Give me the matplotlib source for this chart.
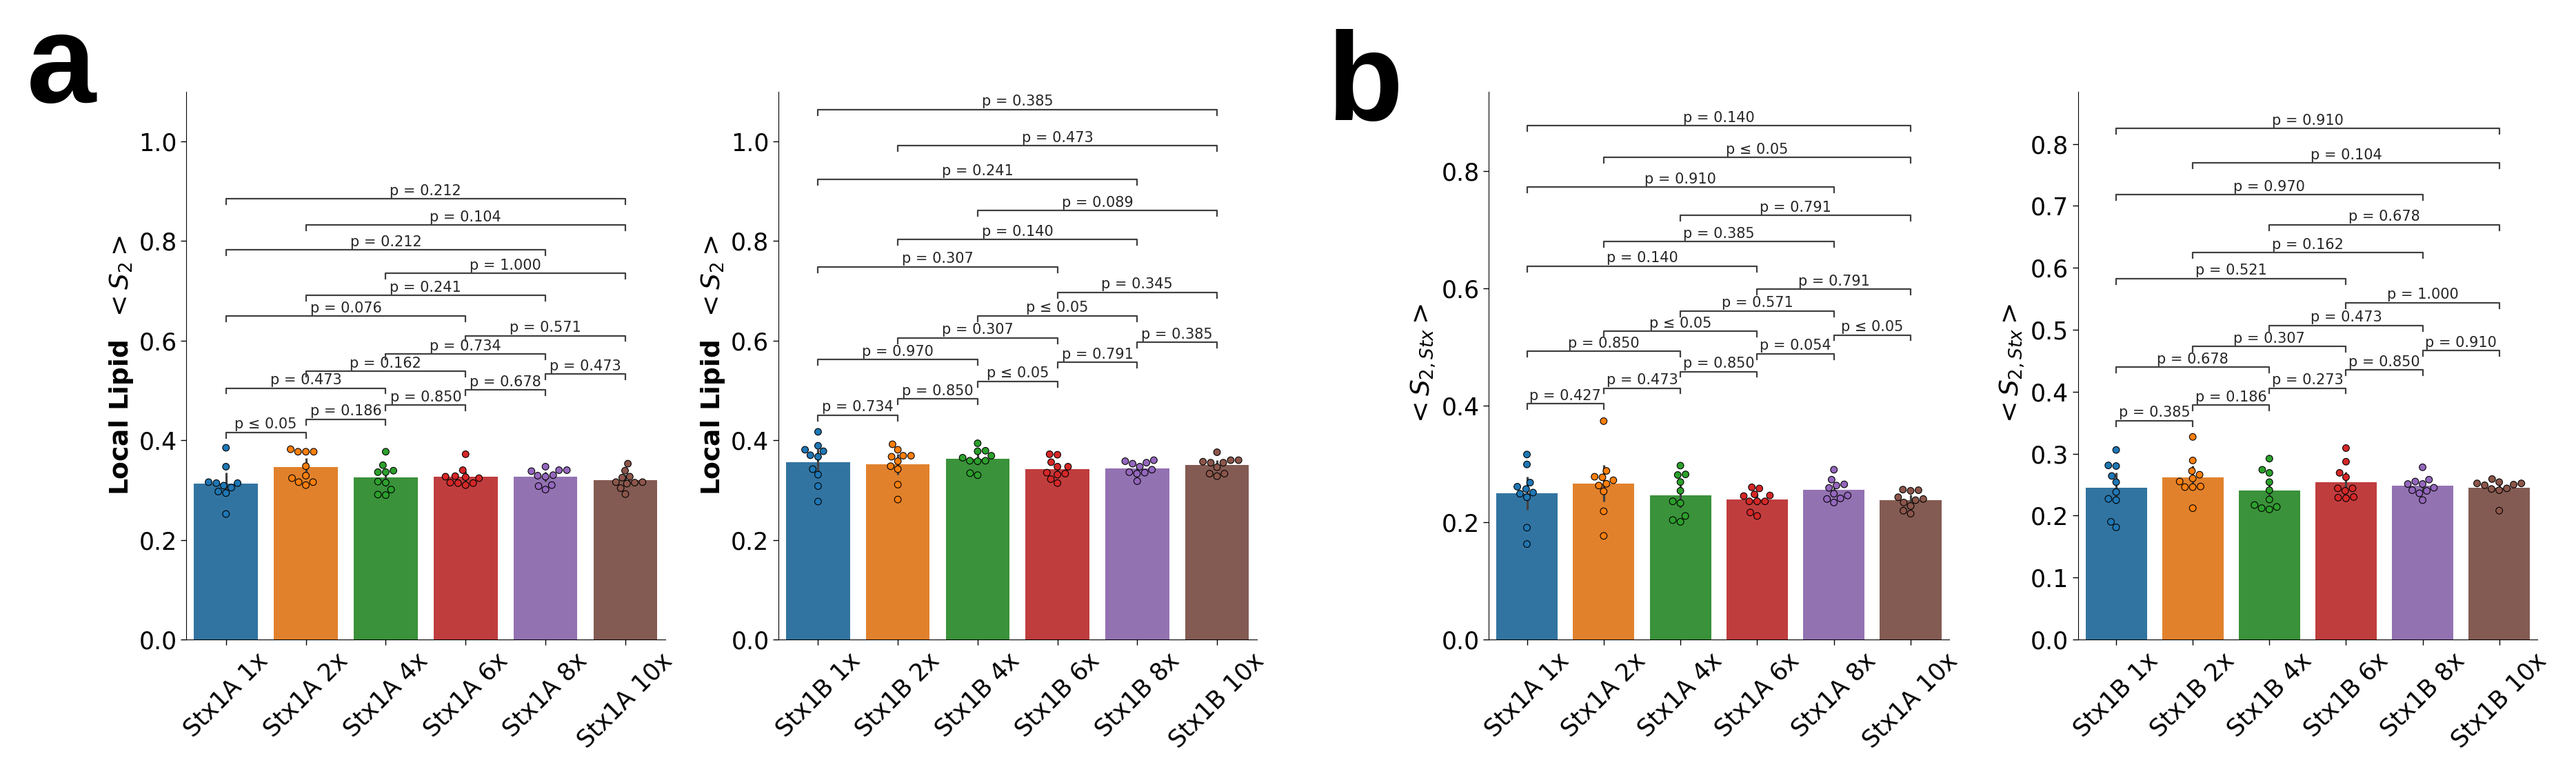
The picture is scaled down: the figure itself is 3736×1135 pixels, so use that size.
import matplotlib
matplotlib.use("Agg")
import matplotlib.pyplot as plt
import matplotlib.ticker as mticker
import seaborn as sns
import numpy as np

labels_1a = ["Stx1A 1x", "Stx1A 2x", "Stx1A 4x", "Stx1A 6x", "Stx1A 8x", "Stx1A 10x"]
labels_1b = ["Stx1B 1x", "Stx1B 2x", "Stx1B 4x", "Stx1B 6x", "Stx1B 8x", "Stx1B 10x"]

# a: local lipid order parameter, one value per replica
lipid_1a = [
    [0.385, 0.347, 0.316, 0.314, 0.314, 0.309, 0.305, 0.297, 0.294, 0.252],
    [0.382, 0.377, 0.377, 0.377, 0.348, 0.329, 0.324, 0.316, 0.316, 0.310],
    [0.377, 0.350, 0.336, 0.336, 0.339, 0.317, 0.315, 0.301, 0.291, 0.290],
    [0.372, 0.340, 0.328, 0.326, 0.324, 0.327, 0.314, 0.315, 0.314, 0.310],
    [0.347, 0.340, 0.340, 0.338, 0.329, 0.330, 0.327, 0.310, 0.308, 0.301],
    [0.353, 0.339, 0.327, 0.325, 0.316, 0.316, 0.313, 0.304, 0.292, 0.315],
]
lipid_1b = [
    [0.417, 0.389, 0.381, 0.378, 0.370, 0.367, 0.342, 0.331, 0.308, 0.277],
    [0.392, 0.381, 0.367, 0.369, 0.369, 0.358, 0.348, 0.342, 0.311, 0.281],
    [0.394, 0.379, 0.378, 0.365, 0.369, 0.359, 0.359, 0.358, 0.334, 0.330],
    [0.372, 0.371, 0.356, 0.347, 0.347, 0.335, 0.331, 0.333, 0.322, 0.314],
    [0.358, 0.355, 0.360, 0.353, 0.347, 0.341, 0.335, 0.333, 0.336, 0.318],
    [0.376, 0.360, 0.360, 0.355, 0.355, 0.357, 0.346, 0.333, 0.328, 0.333],
]
# b: syntaxin order parameter
stx_1a = [
    [0.316, 0.299, 0.268, 0.261, 0.257, 0.251, 0.249, 0.243, 0.191, 0.163],
    [0.373, 0.288, 0.277, 0.278, 0.272, 0.266, 0.263, 0.253, 0.219, 0.177],
    [0.297, 0.282, 0.281, 0.269, 0.254, 0.236, 0.233, 0.211, 0.204, 0.201],
    [0.260, 0.258, 0.246, 0.245, 0.248, 0.236, 0.236, 0.236, 0.217, 0.211],
    [0.290, 0.273, 0.263, 0.265, 0.259, 0.249, 0.246, 0.241, 0.240, 0.234],
    [0.255, 0.254, 0.256, 0.243, 0.240, 0.238, 0.234, 0.228, 0.220, 0.215],
]
stx_1b = [
    [0.306, 0.281, 0.280, 0.264, 0.254, 0.238, 0.227, 0.225, 0.190, 0.181],
    [0.327, 0.289, 0.272, 0.266, 0.260, 0.255, 0.246, 0.246, 0.247, 0.212],
    [0.292, 0.274, 0.269, 0.254, 0.241, 0.226, 0.217, 0.212, 0.210, 0.214],
    [0.309, 0.287, 0.269, 0.262, 0.244, 0.240, 0.244, 0.229, 0.228, 0.230],
    [0.278, 0.255, 0.251, 0.251, 0.258, 0.245, 0.240, 0.236, 0.241, 0.225],
    [0.252, 0.249, 0.243, 0.252, 0.259, 0.241, 0.244, 0.250, 0.254, 0.208],
]

pairs = [(0, 1), (1, 2), (2, 3), (3, 4), (4, 5),
         (0, 2), (1, 3), (2, 4), (3, 5),
         (0, 3), (1, 4), (2, 5),
         (0, 4), (1, 5),
         (0, 5)]
pvals_lipid_1a = ["p ≤ 0.05", "p = 0.186", "p = 0.850", "p = 0.678", "p = 0.473",
                  "p = 0.473", "p = 0.162", "p = 0.734", "p = 0.571",
                  "p = 0.076", "p = 0.241", "p = 1.000",
                  "p = 0.212", "p = 0.104", "p = 0.212"]
pvals_lipid_1b = ["p = 0.734", "p = 0.850", "p ≤ 0.05", "p = 0.791", "p = 0.385",
                  "p = 0.970", "p = 0.307", "p ≤ 0.05", "p = 0.345",
                  "p = 0.307", "p = 0.140", "p = 0.089",
                  "p = 0.241", "p = 0.473", "p = 0.385"]
pvals_stx_1a = ["p = 0.427", "p = 0.473", "p = 0.850", "p = 0.054", "p ≤ 0.05",
                "p = 0.850", "p ≤ 0.05", "p = 0.571", "p = 0.791",
                "p = 0.140", "p = 0.385", "p = 0.791",
                "p = 0.910", "p ≤ 0.05", "p = 0.140"]
pvals_stx_1b = ["p = 0.385", "p = 0.186", "p = 0.273", "p = 0.850", "p = 0.910",
                "p = 0.678", "p = 0.307", "p = 0.473", "p = 1.000",
                "p = 0.521", "p = 0.162", "p = 0.678",
                "p = 0.970", "p = 0.104", "p = 0.910"]

bar_cols = sns.color_palette("tab10", 6, desat=0.75)
dot_cols = sns.color_palette("tab10", 6)


def draw_panel(ax, labels, vals):
    x = np.arange(len(labels))
    means = [np.mean(v) for v in vals]
    ci = [1.96 * np.std(v, ddof=1) / np.sqrt(len(v)) for v in vals]
    ax.bar(x, means, width=0.8, color=bar_cols, zorder=1)
    ax.vlines(x, np.array(means) - ci, np.array(means) + ci, color=".26", lw=2.3, zorder=2)
    xs = np.concatenate([[i] * len(v) for i, v in enumerate(vals)])
    ys = np.concatenate(vals)
    sns.swarmplot(x=xs, y=ys, hue=xs, palette=dot_cols, native_scale=True, size=7,
                  edgecolor="black", linewidth=0.8, legend=False, ax=ax, zorder=3)
    ax.set_xticks(x)
    ax.set_xticklabels(labels, rotation=45, fontsize=25)
    ax.set_xlim(-0.5, len(labels) - 0.5)
    ax.spines[["top", "right"]].set_visible(False)
    ax.tick_params(labelsize=25, length=6, width=1)


def stack_brackets(vals, pairs, gap):
    # each bracket goes above the data and the brackets already drawn over its range;
    # the spacing grows with the current height, like statannotations does
    data_top = [max(v) for v in vals]
    br_top = [0.0] * len(vals)
    cur = max(data_top)
    levels = []
    for i, j in pairs:
        y = max(max(data_top[i:j + 1]) + 0.08 * cur, max(br_top[i:j + 1]) + gap * cur)
        levels.append(y)
        cur = max(cur, y)
        for k in range(i, j + 1):
            br_top[k] = y
    return levels


def draw_brackets(ax, pairs, levels, texts, top):
    h = 0.01 * top
    for (i, j), y, t in zip(pairs, levels, texts):
        ax.plot([i, i, j, j], [y - h, y, y, y - h], color="0.25", lw=1.6, zorder=4)
        ax.annotate(t, ((i + j) / 2, y), xytext=(0, 1), textcoords="offset points",
                    ha="center", va="bottom", fontsize=15, color="0.15")


fig = plt.figure(figsize=(37.37, 11.35), dpi=100)
ax1 = fig.add_axes([0.0722, 0.1833, 0.186, 0.6996])
ax2 = fig.add_axes([0.302, 0.1833, 0.1858, 0.6996])
ax3 = fig.add_axes([0.5777, 0.1833, 0.1787, 0.6996])
ax4 = fig.add_axes([0.8064, 0.1833, 0.1784, 0.6996])

panels = [(ax1, labels_1a, lipid_1a, pvals_lipid_1a, 0.064),
          (ax2, labels_1b, lipid_1b, pvals_lipid_1b, 0.073),
          (ax3, labels_1a, stx_1a, pvals_stx_1a, 0.066),
          (ax4, labels_1b, stx_1b, pvals_stx_1b, 0.072)]

for ax, labs, v, pv, gap in panels:
    lev = stack_brackets(v, pairs, gap)
    top = 1.1 if ax in (ax1, ax2) else max(lev) * (1 + gap)
    draw_panel(ax, labs, v)
    draw_brackets(ax, pairs, lev, pv, top)
    ax.set_ylim(0, top)

ax1.yaxis.set_major_locator(mticker.MultipleLocator(0.2))
ax2.yaxis.set_major_locator(mticker.MultipleLocator(0.2))
ax3.yaxis.set_major_locator(mticker.MultipleLocator(0.2))
ax4.yaxis.set_major_locator(mticker.MultipleLocator(0.1))

for ax in (ax1, ax2):
    ax.set_ylabel(r"Local Lipid  $<S_2>$", fontsize=27, fontweight="bold")
for ax in (ax3, ax4):
    ax.set_ylabel(r"$<S_{2,Stx}>$", fontsize=27)

fig.text(0.0104, 0.8696, "a", fontsize=130, fontweight="bold", family="Liberation Sans")
fig.text(0.5149, 0.8467, "b", fontsize=130, fontweight="bold", family="Liberation Sans")

fig.savefig("out.png", dpi=100)
